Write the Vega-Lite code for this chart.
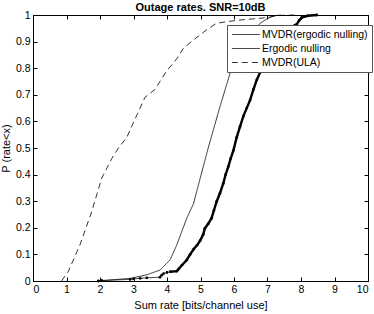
{
  "$schema": "https://vega.github.io/schema/vega-lite/v6.json",
  "width": 335,
  "height": 266,
  "autosize": "none",
  "padding": {"left": 33, "top": 15, "right": 6, "bottom": 33},
  "background": "#ffffff",
  "title": {"text": "Outage rates. SNR=10dB", "font": "Liberation Sans", "fontSize": 11, "fontWeight": "bold", "color": "black", "offset": -3},
  "config": {
    "view": {"stroke": "black", "strokeWidth": 1},
    "axis": {"labelFont": "Liberation Sans", "titleFont": "Liberation Sans", "labelFontSize": 10.5, "titleFontSize": 11, "titleFontWeight": "normal", "labelColor": "black", "titleColor": "black", "domainColor": "black", "tickColor": "black", "grid": false, "tickSize": -4}
  },
  "data": {"values": [
    {"series": "MVDR(ULA)", "x": 0.85, "y": 0},
    {"series": "MVDR(ULA)", "x": 1.05, "y": 0.035},
    {"series": "MVDR(ULA)", "x": 1.4, "y": 0.135},
    {"series": "MVDR(ULA)", "x": 1.75, "y": 0.26},
    {"series": "MVDR(ULA)", "x": 2.05, "y": 0.386},
    {"series": "MVDR(ULA)", "x": 2.35, "y": 0.46},
    {"series": "MVDR(ULA)", "x": 2.55, "y": 0.5},
    {"series": "MVDR(ULA)", "x": 2.8, "y": 0.54},
    {"series": "MVDR(ULA)", "x": 3.05, "y": 0.61},
    {"series": "MVDR(ULA)", "x": 3.34, "y": 0.69},
    {"series": "MVDR(ULA)", "x": 3.64, "y": 0.72},
    {"series": "MVDR(ULA)", "x": 3.99, "y": 0.79},
    {"series": "MVDR(ULA)", "x": 4.29, "y": 0.835},
    {"series": "MVDR(ULA)", "x": 4.49, "y": 0.875},
    {"series": "MVDR(ULA)", "x": 4.79, "y": 0.906},
    {"series": "MVDR(ULA)", "x": 5.18, "y": 0.944},
    {"series": "MVDR(ULA)", "x": 5.48, "y": 0.969},
    {"series": "MVDR(ULA)", "x": 6.08, "y": 0.98},
    {"series": "MVDR(ULA)", "x": 6.98, "y": 0.99},
    {"series": "MVDR(ULA)", "x": 7.3, "y": 0.998},
    {"series": "MVDR(ULA)", "x": 7.8, "y": 1.0},
    {"series": "Ergodic nulling", "x": 1.95, "y": 0},
    {"series": "Ergodic nulling", "x": 2.9, "y": 0.01},
    {"series": "Ergodic nulling", "x": 3.39, "y": 0.023},
    {"series": "Ergodic nulling", "x": 3.79, "y": 0.041},
    {"series": "Ergodic nulling", "x": 4.09, "y": 0.079},
    {"series": "Ergodic nulling", "x": 4.29, "y": 0.135},
    {"series": "Ergodic nulling", "x": 4.59, "y": 0.236},
    {"series": "Ergodic nulling", "x": 4.79, "y": 0.29},
    {"series": "Ergodic nulling", "x": 4.99, "y": 0.386},
    {"series": "Ergodic nulling", "x": 5.23, "y": 0.5},
    {"series": "Ergodic nulling", "x": 5.58, "y": 0.655},
    {"series": "Ergodic nulling", "x": 5.88, "y": 0.78},
    {"series": "Ergodic nulling", "x": 5.98, "y": 0.81},
    {"series": "Ergodic nulling", "x": 6.2, "y": 0.87},
    {"series": "Ergodic nulling", "x": 6.5, "y": 0.93},
    {"series": "Ergodic nulling", "x": 6.78, "y": 0.969},
    {"series": "Ergodic nulling", "x": 6.98, "y": 0.985},
    {"series": "Ergodic nulling", "x": 7.16, "y": 0.996},
    {"series": "Ergodic nulling", "x": 7.4, "y": 1.0},
    {"series": "MVDR(ergodic nulling)", "x": 1.95, "y": 0},
    {"series": "MVDR(ergodic nulling)", "x": 2.05, "y": 0.002},
    {"series": "MVDR(ergodic nulling)", "x": 2.9, "y": 0.006},
    {"series": "MVDR(ergodic nulling)", "x": 3.0, "y": 0.008},
    {"series": "MVDR(ergodic nulling)", "x": 3.2, "y": 0.01},
    {"series": "MVDR(ergodic nulling)", "x": 3.4, "y": 0.012},
    {"series": "MVDR(ergodic nulling)", "x": 3.79, "y": 0.014},
    {"series": "MVDR(ergodic nulling)", "x": 3.84, "y": 0.022},
    {"series": "MVDR(ergodic nulling)", "x": 3.9, "y": 0.028},
    {"series": "MVDR(ergodic nulling)", "x": 4.0, "y": 0.032},
    {"series": "MVDR(ergodic nulling)", "x": 4.1, "y": 0.035},
    {"series": "MVDR(ergodic nulling)", "x": 4.29, "y": 0.037},
    {"series": "MVDR(ergodic nulling)", "x": 4.35, "y": 0.045},
    {"series": "MVDR(ergodic nulling)", "x": 4.45, "y": 0.06},
    {"series": "MVDR(ergodic nulling)", "x": 4.59, "y": 0.079},
    {"series": "MVDR(ergodic nulling)", "x": 4.69, "y": 0.1},
    {"series": "MVDR(ergodic nulling)", "x": 4.8, "y": 0.12},
    {"series": "MVDR(ergodic nulling)", "x": 4.9, "y": 0.135},
    {"series": "MVDR(ergodic nulling)", "x": 4.99, "y": 0.152},
    {"series": "MVDR(ergodic nulling)", "x": 5.08, "y": 0.175},
    {"series": "MVDR(ergodic nulling)", "x": 5.13, "y": 0.198},
    {"series": "MVDR(ergodic nulling)", "x": 5.23, "y": 0.215},
    {"series": "MVDR(ergodic nulling)", "x": 5.33, "y": 0.236},
    {"series": "MVDR(ergodic nulling)", "x": 5.4, "y": 0.265},
    {"series": "MVDR(ergodic nulling)", "x": 5.48, "y": 0.298},
    {"series": "MVDR(ergodic nulling)", "x": 5.58, "y": 0.33},
    {"series": "MVDR(ergodic nulling)", "x": 5.68, "y": 0.367},
    {"series": "MVDR(ergodic nulling)", "x": 5.75, "y": 0.4},
    {"series": "MVDR(ergodic nulling)", "x": 5.83, "y": 0.43},
    {"series": "MVDR(ergodic nulling)", "x": 5.9, "y": 0.46},
    {"series": "MVDR(ergodic nulling)", "x": 5.98, "y": 0.49},
    {"series": "MVDR(ergodic nulling)", "x": 6.08, "y": 0.54},
    {"series": "MVDR(ergodic nulling)", "x": 6.18, "y": 0.58},
    {"series": "MVDR(ergodic nulling)", "x": 6.28, "y": 0.62},
    {"series": "MVDR(ergodic nulling)", "x": 6.38, "y": 0.65},
    {"series": "MVDR(ergodic nulling)", "x": 6.48, "y": 0.68},
    {"series": "MVDR(ergodic nulling)", "x": 6.58, "y": 0.72},
    {"series": "MVDR(ergodic nulling)", "x": 6.68, "y": 0.756},
    {"series": "MVDR(ergodic nulling)", "x": 6.78, "y": 0.785},
    {"series": "MVDR(ergodic nulling)", "x": 6.87, "y": 0.81},
    {"series": "MVDR(ergodic nulling)", "x": 7.0, "y": 0.85},
    {"series": "MVDR(ergodic nulling)", "x": 7.15, "y": 0.89},
    {"series": "MVDR(ergodic nulling)", "x": 7.3, "y": 0.92},
    {"series": "MVDR(ergodic nulling)", "x": 7.5, "y": 0.94},
    {"series": "MVDR(ergodic nulling)", "x": 7.7, "y": 0.955},
    {"series": "MVDR(ergodic nulling)", "x": 7.87, "y": 0.965},
    {"series": "MVDR(ergodic nulling)", "x": 7.95, "y": 0.98},
    {"series": "MVDR(ergodic nulling)", "x": 8.02, "y": 0.99},
    {"series": "MVDR(ergodic nulling)", "x": 8.2, "y": 0.997},
    {"series": "MVDR(ergodic nulling)", "x": 8.47, "y": 1.0}
  ]},
  "layer": [
    {
      "mark": {"type": "line", "color": "black", "strokeWidth": 0.8},
      "encoding": {
        "x": {"field": "x", "type": "quantitative", "scale": {"domain": [0, 10], "nice": false}, "axis": {"values": [0,1,2,3,4,5,6,7,8,9,10], "format": "d", "title": "Sum rate [bits/channel use]", "labelPadding": 7, "titlePadding": 5}},
        "y": {"field": "y", "type": "quantitative", "scale": {"domain": [0, 1], "nice": false}, "axis": {"values": [0,0.1,0.2,0.3,0.4,0.5,0.6,0.7,0.8,0.9,1], "format": ".1~f", "title": "P (rate<x)", "labelPadding": 7, "titlePadding": 4}},
        "strokeDash": {"field": "series", "type": "nominal", "scale": {"domain": ["MVDR(ergodic nulling)", "Ergodic nulling", "MVDR(ULA)"], "range": [[1, 0], [1, 0], [6, 4]]},
          "legend": {"title": null, "orient": "none", "legendX": 194, "legendY": 10, "symbolType": "M-1,0H5", "symbolSize": 87, "symbolStrokeColor": "black", "symbolStrokeWidth": 0.8, "labelFont": "Liberation Sans", "labelFontSize": 10.5, "labelColor": "black", "strokeColor": "#555555", "fillColor": "white", "padding": 4, "rowPadding": 3, "labelOffset": 20}},
        "detail": {"field": "series"}
      }
    },
    {
      "transform": [{"filter": "datum.series == 'MVDR(ergodic nulling)' && datum.y >= 0.035"}],
      "mark": {"type": "line", "color": "black", "strokeWidth": 2.4},
      "encoding": {"x": {"field": "x", "type": "quantitative", "axis": null}, "y": {"field": "y", "type": "quantitative", "axis": null}}
    },
    {
      "transform": [{"filter": "datum.series == 'MVDR(ergodic nulling)'"}],
      "mark": {"type": "point", "filled": true, "color": "black", "size": 8, "opacity": 1},
      "encoding": {"x": {"field": "x", "type": "quantitative", "axis": null}, "y": {"field": "y", "type": "quantitative", "axis": null}}
    },
    {
      "mark": {"type": "line", "opacity": 0},
      "encoding": {
        "x": {"field": "x", "type": "quantitative", "axis": {"orient": "top", "values": [0,1,2,3,4,5,6,7,8,9,10], "labels": false, "title": null}},
        "y": {"field": "y", "type": "quantitative", "axis": {"orient": "right", "values": [0,0.1,0.2,0.3,0.4,0.5,0.6,0.7,0.8,0.9,1], "labels": false, "title": null}},
        "detail": {"field": "series"}
      }
    }
  ],
  "resolve": {"axis": {"x": "independent", "y": "independent"}}
}
